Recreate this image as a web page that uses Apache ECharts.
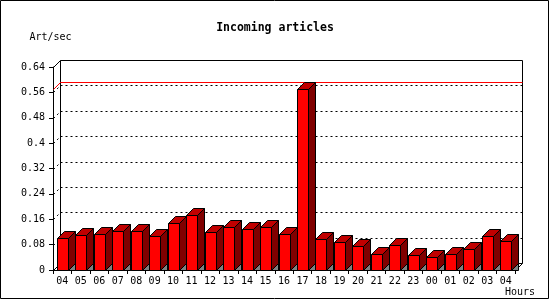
<!DOCTYPE html>
<html>
<head>
<meta charset="utf-8">
<script src="https://cdn.jsdelivr.net/npm/echarts@6/dist/echarts.min.js"></script>
<style>
html,body{margin:0;padding:0;background:#fff;}
#chart{width:550px;height:300px;}
</style>
</head>
<body>
<div id="chart"></div>
<script>
// ---- data ----
const hours = ['04','05','06','07','08','09','10','11','12','13','14','15','16','17','18','19','20','21','22','23','00','01','02','03','04'];
const artPerSec = [0.100,0.109,0.112,0.122,0.122,0.106,0.147,0.172,0.119,0.137,0.128,0.134,0.112,0.572,0.097,0.087,0.075,0.049,0.078,0.046,0.040,0.052,0.065,0.106,0.093];
const yMin = 0, yMax = 0.64, yStep = 0.08;
const gridValues = [0.08,0.16,0.24,0.32,0.4,0.48,0.56];
const titleText = 'Incoming articles';
const yName = 'Art/sec';
const xName = 'Hours';

const maxValue = Math.max.apply(null, artPerSec);
const D = 7; // 3D depth in px
const FONT = '"DejaVu Sans Mono", monospace';

const chart = echarts.init(document.getElementById('chart'), null, {renderer:'canvas'});

function px(v){ return Math.round(v) + 0.5; }

function renderBar(params, api){
  const idx = api.value(0), v = api.value(1);
  const top = api.coord([idx, v]);
  const base = api.coord([idx, 0]);
  const slot = api.size([1, 0])[0];
  const w = Math.round(slot * 0.6);
  const x1 = px(top[0] - w / 2), x2 = x1 + w;
  const yT = px(top[1]), yB = px(base[1]);
  const ls = {stroke:'#000', lineWidth:1};
  return {
    type:'group',
    children:[
      {type:'polygon', shape:{points:[[x2,yB],[x2+D,yB-D],[x2+D,yB]]}, style:{fill:'#808080', stroke:'#000', lineWidth:1}},
      {type:'polygon', shape:{points:[[x2,yT],[x2+D,yT-D],[x2+D,yB-D],[x2,yB]]}, style:Object.assign({fill:'#800000'}, ls)},
      {type:'polygon', shape:{points:[[x1,yT],[x1+D,yT-D],[x2+D,yT-D],[x2,yT]]}, style:Object.assign({fill:'#c00000'}, ls)},
      {type:'rect', shape:{x:x1, y:yT, width:w, height:yB-yT}, style:Object.assign({fill:'#ff0000'}, ls)}
    ]
  };
}

function renderGridLine(params, api){
  const cs = params.coordSys;
  const p = api.coord([0, api.value(0)]);
  const y = px(p[1]);
  const xl = px(cs.x), xr = px(cs.x + cs.width) + D;
  const st = {stroke:'#000', lineWidth:1, lineDash:[2,3]};
  return {
    type:'group',
    children:[
      {type:'line', shape:{x1:xl, y1:y, x2:xl+D, y2:y-D}, style:st},
      {type:'line', shape:{x1:xl+D, y1:y-D, x2:xr, y2:y-D}, style:st}
    ]
  };
}

function renderMaxLine(params, api){
  const cs = params.coordSys;
  const p = api.coord([0, api.value(0)]);
  const y = px(p[1]);
  const xl = px(cs.x), xr = px(cs.x + cs.width) + D;
  const st = {stroke:'#ff0000', lineWidth:1};
  return {
    type:'group',
    children:[
      {type:'line', shape:{x1:xl, y1:y, x2:xl+D, y2:y-D}, style:st},
      {type:'line', shape:{x1:xl+D, y1:y-D, x2:xr, y2:y-D}, style:st}
    ]
  };
}

function renderPanel(params, api){
  const cs = params.coordSys;
  const xl = px(cs.x), xr = px(cs.x + cs.width);
  const yt = px(cs.y), yb = px(cs.y + cs.height);
  const st = {stroke:'#000', lineWidth:1, fill:null};
  return {
    type:'group',
    children:[
      {type:'polyline', shape:{points:[[xl,yt],[xl+D,yt-D],[xr+D,yt-D],[xr+D,yb-D],[xr,yb]]}, style:st},
      {type:'line', shape:{x1:xl+D, y1:yt-D, x2:xl+D, y2:yb-D}, style:st},
      {type:'line', shape:{x1:xl, y1:yb, x2:xl+D, y2:yb-D}, style:st},
      {type:'line', shape:{x1:xl+D, y1:yb-D, x2:xr+D, y2:yb-D}, style:st}
    ]
  };
}

const option = {
  backgroundColor:'#fff',
  animation:false,
  title:{
    text:titleText, left:'center', top:17,
    textStyle:{fontFamily:FONT, fontSize:11.5, fontWeight:'bold', color:'#000'}
  },
  graphic:[
    {type:'rect', shape:{x:0.5, y:0.5, width:548, height:298}, style:{fill:null, stroke:'#000', lineWidth:1}, z:100}
  ],
  grid:{left:53, right:35, top:67, bottom:30, containLabel:false},
  xAxis:{
    type:'category',
    data:hours,
    boundaryGap:true,
    name:xName,
    nameLocation:'end',
    nameGap:-10,
    nameTextStyle:{fontFamily:FONT, fontSize:10, color:'#000', align:'left', verticalAlign:'top', padding:[17,0,0,0]},
    axisLine:{show:true, lineStyle:{color:'#000', width:1}},
    axisTick:{show:true, inside:false, length:4, lineStyle:{color:'#000'}},
    axisLabel:{fontFamily:FONT, fontSize:10, color:'#000', margin:6, interval:0},
    splitLine:{show:false}
  },
  yAxis:{
    type:'value',
    min:yMin, max:yMax, interval:yStep,
    name:yName,
    nameLocation:'end',
    nameGap:25,
    nameTextStyle:{fontFamily:FONT, fontSize:10, color:'#000', padding:[0,5,0,0]},
    axisLine:{show:true, lineStyle:{color:'#000', width:1}},
    axisTick:{show:true, inside:false, length:4, lineStyle:{color:'#000'}},
    axisLabel:{fontFamily:FONT, fontSize:10, color:'#000', margin:8},
    splitLine:{show:false}
  },
  series:[
    {type:'custom', name:'panel', renderItem:renderPanel, data:[[0]], clip:false, z:1, silent:true},
    {type:'custom', name:'grid', renderItem:renderGridLine, data:gridValues.map(v=>[v]), encode:{y:0}, clip:false, z:2, silent:true},
    {type:'custom', name:'max', renderItem:renderMaxLine, data:[[maxValue]], encode:{y:0}, clip:false, z:3, silent:true},
    {type:'custom', name:'Art/sec', renderItem:renderBar, data:artPerSec.map((v,i)=>[i,v]), encode:{x:0, y:1}, clip:false, z:5}
  ]
};
chart.setOption(option);
</script>
</body>
</html>
